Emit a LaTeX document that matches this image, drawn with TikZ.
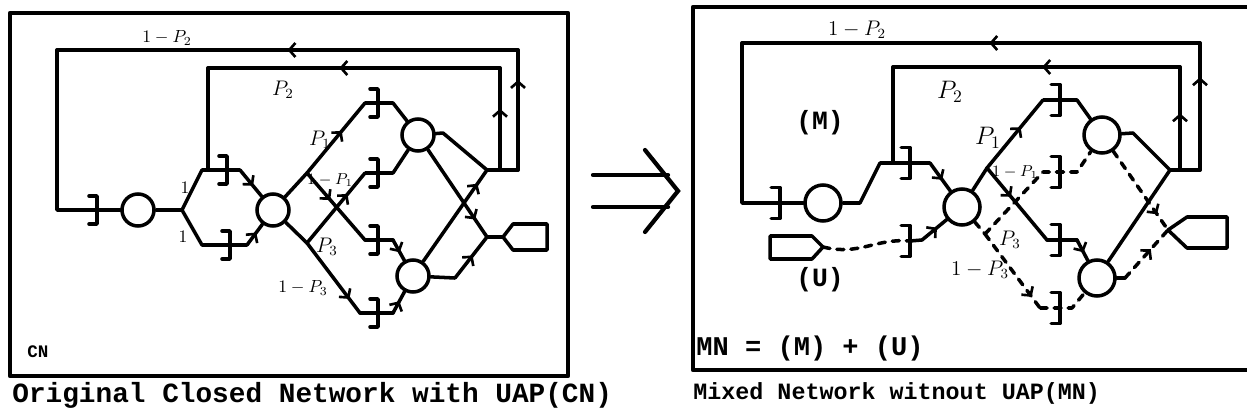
\documentclass[tikz,border=0pt]{standalone}
\usepackage{fontspec}
\setmonofont{Liberation Mono}
\usetikzlibrary{arrows.meta, decorations.markings}

\tikzset{
  net/.style={line width=2pt, line join=round, line cap=round},
  panel/.style={line width=2.4pt, line join=round},
  stn/.style={circle, draw, line width=2pt, minimum size=0.64cm, inner sep=0pt},
  bstn/.style={stn, minimum size=0.72cm},
  udash/.style={dash pattern=on 4pt off 4pt},
  arr/.style={postaction={decorate}, decoration={markings,
      mark=at position #1 with {\arrow{Straight Barb[length=3.5pt, width=8pt, line width=1.5pt]}}}},
  lbl/.style={inner sep=1pt},
  tw/.style={inner sep=0pt, font=\ttfamily\bfseries},
  buf/.pic={\draw[net] (-8,-14) -- (0,-14) -- (0,14) -- (-8,14);}
}

\begin{document}
\begin{tikzpicture}[x=0.02cm, y=-0.02cm]
\useasboundingbox (0,0) rectangle (1247,419);

% closed network
\draw[panel] (10,13) rectangle (568,376);
\node[stn] (a1) at (138,210) {};
\node[stn] (a2) at (273,210) {};
\node[stn] (a3) at (418,135) {};
\node[stn] (a4) at (413,276) {};
\coordinate (af) at (182,210);
\coordinate (au1) at (202,170);
\coordinate (au2) at (240,170);
\coordinate (al1) at (202,245);
\coordinate (al2) at (247,245);
\coordinate (as1) at (307,173);
\coordinate (as2) at (307,243);
\coordinate (ap1) at (365,103);
\coordinate (ap1b) at (393,103);
\coordinate (ap2) at (365,240);
\coordinate (ap2b) at (393,240);
\coordinate (ap3) at (365,173);
\coordinate (ap3b) at (393,173);
\coordinate (ap4) at (360,313);
\coordinate (ap4b) at (393,313);
\coordinate (aR3) at (443,133);
\coordinate (aR4) at (455,278);
\coordinate (aA) at (487,170);
\coordinate (aB) at (487,237);
\coordinate (ak) at (503,237);
\coordinate (ain) at (500,170);
\coordinate (aout) at (518,170);
\coordinate (ao1) at (518,50);
\coordinate (ao2) at (57,50);
\coordinate (ao3) at (57,210);
\coordinate (ai1) at (500,68);
\coordinate (ai2) at (208,68);
\coordinate (aj) at (208,170);

\draw[net] (a1) -- (af) -- (au1) -- (au2);
\draw[net, arr=.6] (au2) -- (a2);
\draw[net] (af) -- (al1) -- (al2);
\draw[net, arr=.6] (al2) -- (a2);
\draw[net] (a2) -- (as1);
\draw[net, arr=.6] (as1) -- (ap1);
\draw[net] (ap1) -- (ap1b) -- (a3);
\draw[net, arr=.4] (as1) -- (ap2);
\draw[net] (ap2) -- (ap2b);
\draw[net, arr=.6] (ap2b) -- (a4);
\draw[net] (a2) -- (as2);
\draw[net, arr=.7] (as2) -- (ap3);
\draw[net] (ap3) -- (ap3b) -- (a3);
\draw[net, arr=.8] (as2) -- (ap4);
\draw[net] (ap4) -- (ap4b);
\draw[net, arr=.55] (ap4b) -- (a4);
\draw[net] (a3) -- (aR3) -- (aA);
\draw[net, arr=.85] (a4) -- (aA);
\draw[net, arr=.8] (a3) -- (aB);
\draw[net] (a4) -- (aR4);
\draw[net, arr=.55] (aR4) -- (aB);
\draw[net] (aB) -- (ak);
\draw[net] (ak) -- ++(10,-13) -- ++(34,0) -- ++(0,26) -- ++(-34,0) -- cycle;
\draw[net] (aA) -- (aout);
\draw[net, arr=.75] (aout) -- (ao1);
\draw[net, arr=.5] (ao1) -- (ao2);
\draw[net] (ao2) -- (ao3) -- (a1);
\draw[net, arr=.6] (ain) -- (ai1);
\draw[net, arr=.55] (ai1) -- (ai2);
\draw[net] (ai2) -- (aj);

\foreach \p in {(97,210),(227,170),(230,245),(378,103),(378,173),(378,240),(378,313)}
  \pic at \p {buf};

\node[lbl] (la12) at (167,38) {$1-P_2$};
\node[lbl, font=\large] (la2) at (283,90) {$P_2$};
\node[lbl] (lau) at (185,188) {$1$};
\node[lbl] (lal) at (183,237) {$1$};
\node[lbl, font=\large] (la1) at (320,140) {$P_1$};
\node[lbl, font=\small] (la11) at (330,180) {$1-P_1$};
\node[lbl, font=\large] (la3) at (327,247) {$P_3$};
\node[lbl] (la13) at (303,288) {$1-P_3$};
\node[tw, anchor=west, font=\ttfamily\bfseries\fontsize{10}{12}\selectfont] (cn) at (27,352) {CN};
\node[tw, anchor=west, font=\ttfamily\bfseries\fontsize{15.8}{18}\selectfont] (capL) at (12,395) {Original Closed Network with UAP(CN)};

% transformation arrow
\draw[line width=2.4pt, line cap=round] (593,175) -- (668,175) (593,207) -- (668,207);
\draw[line width=2.4pt, line cap=round, line join=miter] (645,150) -- (678,191) -- (645,232);

% mixed network
\draw[panel] (1247,7) -- (693,7) -- (693,370) -- (1247,370);
\node[bstn] (b1) at (823,203) {};
\node[bstn] (b2) at (962,207) {};
\node[bstn] (b3) at (1102,135) {};
\node[bstn] (b4) at (1097,278) {};
\coordinate (bu1) at (860,203);
\coordinate (bu2) at (880,163);
\coordinate (bu3) at (930,163);
\coordinate (bsrc) at (823,247);
\coordinate (bl1) at (910,241);
\coordinate (bl2) at (922,240);
\coordinate (bs1) at (987,168);
\coordinate (bs2) at (985,234);
\coordinate (bp1) at (1043,100);
\coordinate (bp1b) at (1077,100);
\coordinate (bp2) at (1047,240);
\coordinate (bp2b) at (1077,240);
\coordinate (bp3) at (1043,172);
\coordinate (bp3b) at (1077,172);
\coordinate (bp4) at (1040,308);
\coordinate (bp4b) at (1072,308);
\coordinate (bR3) at (1133,133);
\coordinate (bR4) at (1125,278);
\coordinate (bA) at (1170,170);
\coordinate (bB) at (1168,230);
\coordinate (bin) at (1180,170);
\coordinate (bout) at (1200,170);
\coordinate (bo1) at (1200,43);
\coordinate (bo2) at (742,43);
\coordinate (bo3) at (742,203);
\coordinate (bi1) at (1180,67);
\coordinate (bi2) at (893,67);
\coordinate (bj) at (893,163);

\draw[net] (b1) -- (bu1) -- (bu2) -- (bu3);
\draw[net, arr=.6] (bu3) -- (b2);
\draw[net] (bsrc) -- ++(-11,-11) -- ++(-42,0) -- ++(0,23) -- ++(42,0) -- cycle;
\draw[net, udash] (bsrc) .. controls (860,256) and (875,238) .. (bl1);
\draw[net] (bl1) -- (bl2);
\draw[net, arr=.6] (bl2) -- (b2);
\draw[net] (b2) -- (bs1);
\draw[net, arr=.6] (bs1) -- (bp1);
\draw[net] (bp1) -- (bp1b) -- (b3);
\draw[net, arr=.4] (bs1) -- (bp2);
\draw[net] (bp2) -- (bp2b);
\draw[net, arr=.6] (bp2b) -- (b4);
\draw[net, udash] (b2) -- (bs2);
\draw[net, udash] (bs2) -- (bp3) -- (bp3b) -- (b3);
\draw[net, udash, arr=.85] (bs2) -- (bp4);
\draw[net, udash] (bp4) -- (bp4b) -- (b4);
\draw[net] (b3) -- (bR3) -- (bA);
\draw[net] (b4) -- (bA);
\draw[net, udash, arr=.8] (b3) -- (bB);
\draw[net] (b4) -- (bR4);
\draw[net, udash, arr=.6] (bR4) -- (bB);
\draw[net] (bB) -- ++(19,-13) -- ++(40,0) -- ++(0,31) -- ++(-40,0) -- cycle;
\draw[net] (bA) -- (bout);
\draw[net, arr=.73] (bout) -- (bo1);
\draw[net, arr=.46] (bo1) -- (bo2);
\draw[net] (bo2) -- (bo3) -- (b1);
\draw[net, arr=.55] (bin) -- (bi1);
\draw[net, arr=.48] (bi1) -- (bi2);
\draw[net] (bi2) -- (bj);

\foreach \p in {(780,203),(910,163),(910,241),(1060,100),(1060,172),(1060,240),(1060,308)}
  \pic[scale=1.1] at \p {buf};

\node[lbl, font=\large] (lb12) at (857,30) {$1-P_2$};
\node[lbl, font=\Large] (lb2) at (950,92) {$P_2$};
\node[lbl, font=\Large] (lb1) at (988,138) {$P_1$};
\node[lbl, font=\small] (lb11) at (1015,172) {$1-P_1$};
\node[lbl, font=\large] (lb3) at (1010,240) {$P_3$};
\node[lbl, font=\large] (lb13) at (980,270) {$1-P_3$};
\node[tw, font=\ttfamily\bfseries\fontsize{15}{18}\selectfont] (lm) at (820,123) {(M)};
\node[tw, font=\ttfamily\bfseries\fontsize{15}{18}\selectfont] (lu) at (820,280) {(U)};
\node[tw, anchor=west, font=\ttfamily\bfseries\fontsize{15.4}{18}\selectfont] (mn) at (696,348) {MN = (M) + (U)};
\node[tw, anchor=west, font=\ttfamily\bfseries\fontsize{13.3}{16}\selectfont] (capR) at (693,393) {Mixed Network witnout UAP(MN)};
\end{tikzpicture}
\end{document}
